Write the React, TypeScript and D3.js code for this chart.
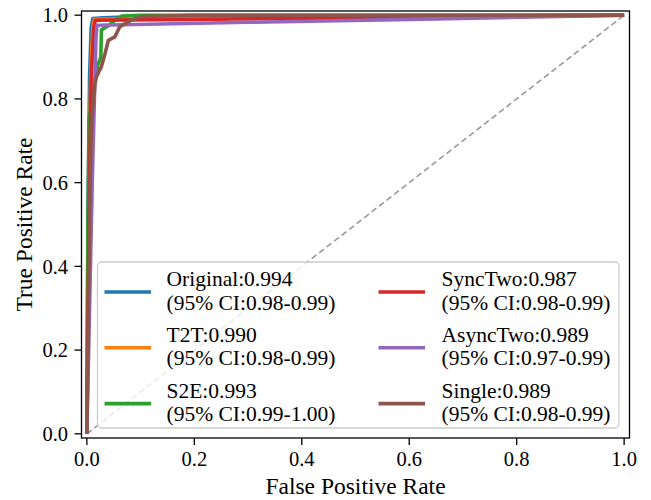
import { useEffect, useRef } from "react";
import * as d3 from "d3";

// ROC curves, one fpr/tpr list per model
const names = ["Original", "T2T", "S2E", "SyncTwo", "AsyncTwo", "Single"];
const aucs = ["0.994", "0.990", "0.993", "0.987", "0.989", "0.989"];
const cis = ["0.98-0.99", "0.98-0.99", "0.99-1.00", "0.98-0.99", "0.97-0.99", "0.98-0.99"];
const colors = ["#1f77b4", "#ff7f0e", "#2ca02c", "#d62728", "#9467bd", "#8c564b"];

const originalFpr = [0, 0.002, 0.005, 0.008, 0.011, 0.03, 0.1, 1];
const originalTpr = [0, 0.5, 0.85, 0.97, 0.992, 0.994, 0.997, 1];
const t2tFpr = [0, 0.003, 0.007, 0.011, 0.014, 0.2, 1];
const t2tTpr = [0, 0.5, 0.85, 0.97, 0.99, 0.993, 1];
const s2eFpr = [0, 0.002, 0.004, 0.012, 0.02, 0.026, 0.027, 0.04, 0.055, 0.065, 0.1, 1];
const s2eTpr = [0, 0.5, 0.75, 0.82, 0.88, 0.9, 0.965, 0.975, 0.99, 0.998, 1, 1];
const syncFpr = [0, 0.004, 0.008, 0.013, 0.016, 0.2, 0.6, 1];
const syncTpr = [0, 0.5, 0.85, 0.97, 0.988, 0.99, 0.995, 1];
const asyncFpr = [0, 0.005, 0.01, 0.014, 0.017, 0.019, 0.3, 0.6, 1];
const asyncTpr = [0, 0.3, 0.6, 0.8, 0.95, 0.976, 0.983, 0.99, 1];
const singleFpr = [0, 0.003, 0.006, 0.009, 0.014, 0.015, 0.018, 0.027, 0.034, 0.04, 0.052, 0.061, 0.071, 0.083, 0.102, 0.2, 1];
const singleTpr = [0, 0.3, 0.6, 0.75, 0.82, 0.836, 0.853, 0.877, 0.909, 0.94, 0.948, 0.972, 0.98, 0.988, 0.997, 1, 1];

const fprs = [originalFpr, t2tFpr, s2eFpr, syncFpr, asyncFpr, singleFpr];
const tprs = [originalTpr, t2tTpr, s2eTpr, syncTpr, asyncTpr, singleTpr];
const ticks = [0, 0.2, 0.4, 0.6, 0.8, 1.0];

const W = 651;
const H = 500;
const FONT = "Liberation Serif, Times New Roman, serif";

export default function App() {
    const ref = useRef<SVGSVGElement | null>(null);

    useEffect(() => {
        const svg = d3.select(ref.current);
        svg.selectAll("*").remove();

        const x = d3.scaleLinear().domain([-0.01, 1.01]).range([81.5, 629.5]);
        const y = d3.scaleLinear().domain([-0.01, 1.01]).range([438, 11]);

        const g = svg.append("g");

        // diagonal reference
        g.append("line")
            .attr("x1", x(0)).attr("y1", y(0))
            .attr("x2", x(1)).attr("y2", y(1))
            .attr("stroke", "#999")
            .attr("stroke-width", 1.6)
            .attr("stroke-dasharray", "6,3.5");

        const line = d3.line<[number, number]>()
            .x((d) => x(d[0]))
            .y((d) => y(d[1]));

        names.forEach((_, i) => {
            const pts = fprs[i].map((f, j) => [f, tprs[i][j]] as [number, number]);
            g.append("path")
                .attr("d", line(pts) as string)
                .attr("fill", "none")
                .attr("stroke", colors[i])
                .attr("stroke-width", 3.6)
                .attr("stroke-linejoin", "round");
        });

        // legend
        const lg = svg.append("g");
        lg.append("rect")
            .attr("x", 97.5).attr("y", 262)
            .attr("width", 521.5).attr("height", 166)
            .attr("rx", 4)
            .attr("fill", "white").attr("fill-opacity", 0.8)
            .attr("stroke", "#ccc").attr("stroke-width", 1.3);
        names.forEach((n, i) => {
            const col = Math.floor(i / 3);
            const row = i % 3;
            const lx = col === 0 ? 104.5 : 378.5;
            const tx = col === 0 ? 166.5 : 441.5;
            const cy = 292 + row * 55.8;
            lg.append("line")
                .attr("x1", lx).attr("x2", lx + 46.5)
                .attr("y1", cy).attr("y2", cy)
                .attr("stroke", colors[i]).attr("stroke-width", 3.6);
            lg.append("text").attr("x", tx).attr("y", cy - 6)
                .attr("font-family", FONT).attr("font-size", 21.5)
                .text(`${n}:${aucs[i]}`);
            lg.append("text").attr("x", tx).attr("y", cy + 17.5)
                .attr("font-family", FONT).attr("font-size", 21.5)
                .text(`(95% CI:${cis[i]})`);
        });

        // spines
        svg.append("rect")
            .attr("x", 81.5).attr("y", 11)
            .attr("width", 548).attr("height", 427)
            .attr("fill", "none").attr("stroke", "black").attr("stroke-width", 1.3);

        const ax = svg.append("g");
        ticks.forEach((t) => {
            ax.append("line").attr("x1", x(t)).attr("x2", x(t)).attr("y1", 438).attr("y2", 445)
                .attr("stroke", "black").attr("stroke-width", 1.3);
            ax.append("text").attr("x", x(t)).attr("y", 466).attr("text-anchor", "middle")
                .attr("font-family", FONT).attr("font-size", 20.5)
                .text(d3.format(".1f")(t));
            ax.append("line").attr("x1", 74.5).attr("x2", 81.5).attr("y1", y(t)).attr("y2", y(t))
                .attr("stroke", "black").attr("stroke-width", 1.3);
            ax.append("text").attr("x", 68).attr("y", y(t)).attr("dy", "0.35em").attr("text-anchor", "end")
                .attr("font-family", FONT).attr("font-size", 20.5)
                .text(d3.format(".1f")(t));
        });

        svg.append("text")
            .attr("x", (81.5 + 629.5) / 2).attr("y", 494)
            .attr("text-anchor", "middle")
            .attr("font-family", FONT).attr("font-size", 23.5)
            .text("False Positive Rate");
        svg.append("text")
            .attr("transform", `translate(32,${(11 + 438) / 2}) rotate(-90)`)
            .attr("text-anchor", "middle")
            .attr("font-family", FONT).attr("font-size", 23.5)
            .text("True Positive Rate");
    }, []);

    return (
        <svg ref={ref} width={W} height={H} style={{ position: "absolute", left: 0, top: 0, background: "white" }}></svg>
    );
}
